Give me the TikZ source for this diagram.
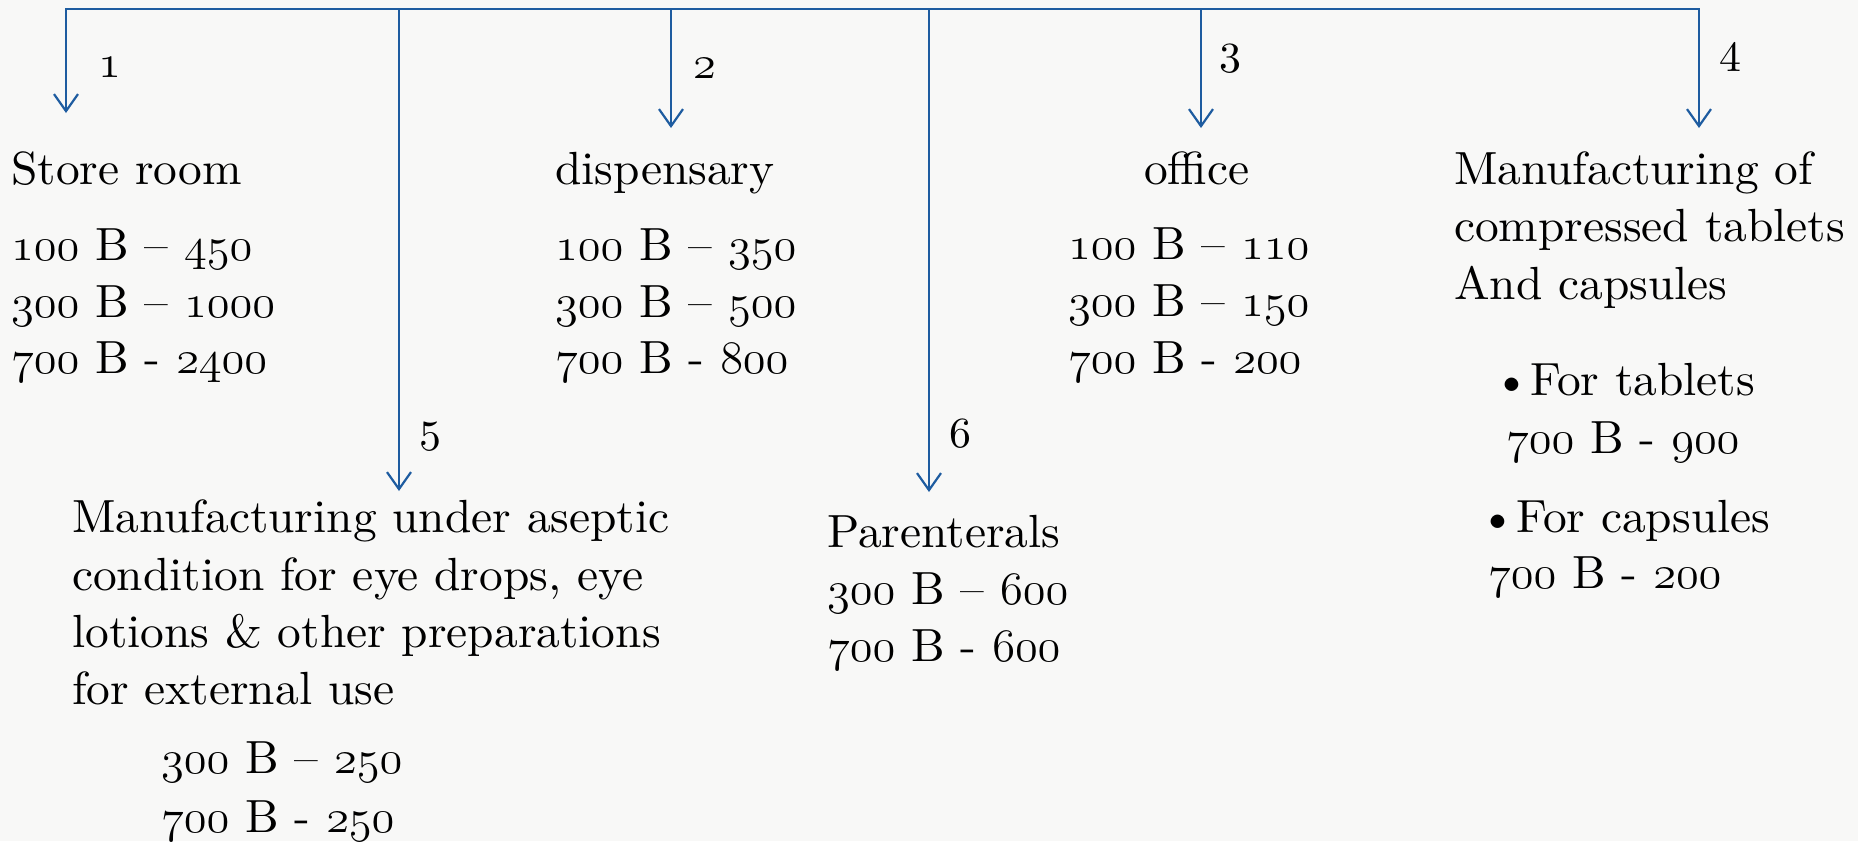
\RequirePackage{fix-cm}
\documentclass[tikz,border=0pt]{standalone}
\usepackage{fontspec}
\setmainfont{lmroman10-regular.otf}[FakeStretch=1.02]
\usetikzlibrary{arrows.meta}
\definecolor{busblue}{RGB}{30,92,160}
\definecolor{bgcol}{RGB}{248,248,247}
\newcommand\osn[1]{{\fontencoding{OML}\fontfamily{cmm}\fontseries{m}\fontshape{it}\selectfont #1}}
\tikzset{
  txt/.style={anchor=base west, inner sep=0pt, font=\fontsize{46.5}{56}\selectfont},
  lbl/.style={anchor=base west, inner sep=0pt, font=\fontsize{43}{50}\selectfont},
  bus/.style={draw=busblue, line width=2.2pt, line join=miter},
  tip/.style={-{Straight Barb[length=17pt,width=24pt]}},
}
\begin{document}
\begin{tikzpicture}[x=1pt,y=-1pt]
\fill[bgcol] (0,0) rectangle (1858,841);
\useasboundingbox (0,0) rectangle (1858,841);

% bus coordinates
\coordinate (b1) at (66,9);
\coordinate (b5) at (399,9);
\coordinate (b2) at (671,9);
\coordinate (b6) at (929,9);
\coordinate (b3) at (1201,9);
\coordinate (b4) at (1699,9);
\coordinate (a1) at (66,113);
\coordinate (a5) at (399,491);
\coordinate (a2) at (671,128);
\coordinate (a6) at (929,492);
\coordinate (a3) at (1201,128);
\coordinate (a4) at (1699,128);

\draw[bus, {Straight Barb[length=17pt,width=24pt]}-{Straight Barb[length=17pt,width=24pt]}] (a1) -- (b1) -- (b4) -- (a4);
\draw[bus, tip] (b5) -- (a5);
\draw[bus, tip] (b2) -- (a2);
\draw[bus, tip] (b6) -- (a6);
\draw[bus, tip] (b3) -- (a3);

% number labels
\node[txt] (l1) at (98,77) {\osn{1}};
\node[txt] (l2) at (693,78) {\osn{2}};
\node[lbl] (l3) at (1219,72) {3};
\node[lbl] (l4) at (1719,71) {4};
\node[lbl] (l5) at (419,450) {5};
\node[lbl] (l6) at (949,447) {6};

% 1 store room
\node[txt] (sr) at (11,184) {Store room};
\node[txt] (sr1) at (11,260) {\osn{100} B – \osn{450}};
\node[txt] (sr2) at (11,317) {\osn{300} B – \osn{1000}};
\node[txt] (sr3) at (11,373) {\osn{700} B - \osn{2400}};

% 2 dispensary
\node[txt] (ds) at (555,184) {dispensary};
\node[txt] (ds1) at (555,260) {\osn{100} B – \osn{350}};
\node[txt] (ds2) at (555,317) {\osn{300} B – \osn{500}};
\node[txt] (ds3) at (555,373) {\osn{700} B - \osn{800}};

% 3 office
\node[txt] (of) at (1144,184) {office};
\node[txt] (of1) at (1068,259) {\osn{100} B – \osn{110}};
\node[txt] (of2) at (1068,316) {\osn{300} B – \osn{150}};
\node[txt] (of3) at (1068,373) {\osn{700} B - \osn{200}};

% 4 manufacturing tablets
\node[txt] (mt1) at (1454,184) {Manufacturing of};
\node[txt] (mt2) at (1454,241) {compressed tablets};
\node[txt] (mt3) at (1454,299) {And capsules};
\node[txt] (ft) at (1493,395) {\textbullet For tablets};
\node[txt] (ft1) at (1506,453) {\osn{700} B - \osn{900}};
\node[txt] (fc) at (1479,532) {\textbullet For capsules};
\node[txt] (fc1) at (1488,588) {\osn{700} B - \osn{200}};

% 5 aseptic
\node[txt] (as1) at (72,532) {Manufacturing under aseptic};
\node[txt] (as2) at (72,590) {condition for eye drops, eye};
\node[txt] (as3) at (72,647) {lotions \& other preparations};
\node[txt] (as4) at (72,704) {for external use};
\node[txt] (asn1) at (161,773) {\osn{300} B – \osn{250}};
\node[txt] (asn2) at (161,832) {\osn{700} B - \osn{250}};

% 6 parenterals
\node[txt] (pa) at (827,547) {Parenterals};
\node[txt] (pa1) at (827,604) {\osn{300} B – \osn{600}};
\node[txt] (pa2) at (827,661) {\osn{700} B - \osn{600}};
\end{tikzpicture}
\end{document}
